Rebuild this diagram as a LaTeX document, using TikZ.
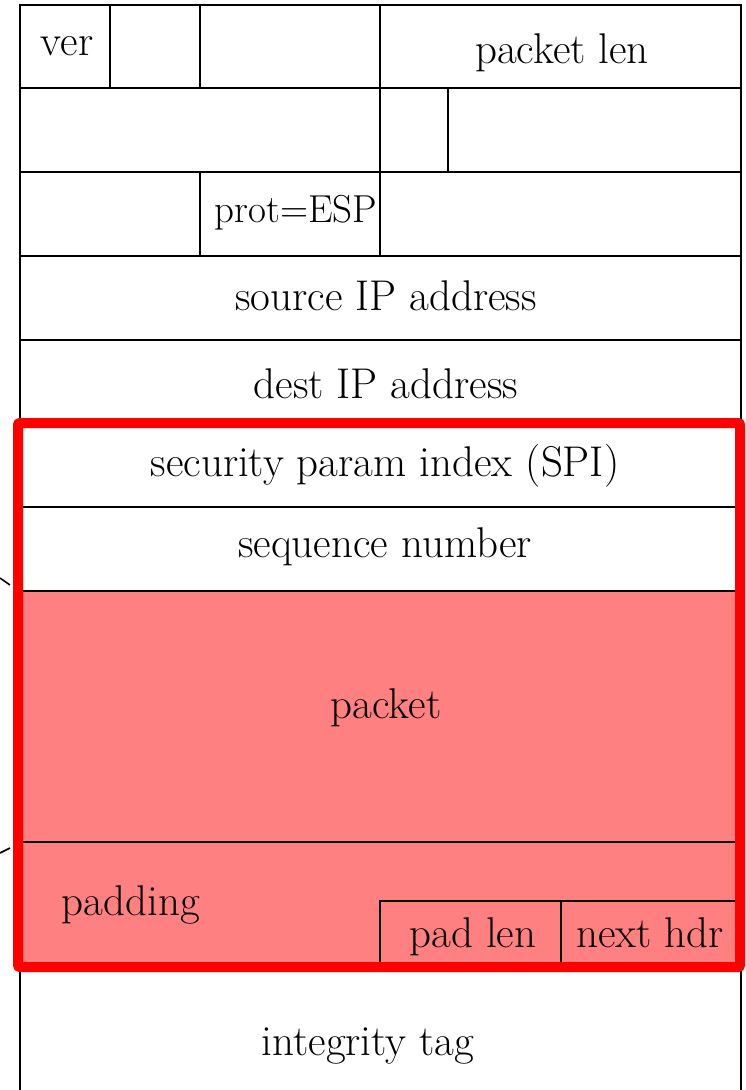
\documentclass[tikz,border=0pt]{standalone}
\usepackage{fontspec}
\begin{document}
\begin{tikzpicture}[x=1pt,y=-1pt,
  grid/.style={line width=1.6pt,black},
  lbl/.style={font=\fontsize{43}{48}\selectfont, inner sep=0pt, text height=0.69em, text depth=0.2em},
  espbox/.style={draw=red,line width=10pt,rounded corners=2pt}]
\useasboundingbox (0,0) rectangle (745,1090);
\definecolor{pktred}{HTML}{FF8080}
% red fill
\fill[pktred] (20,591) rectangle (741,967);
% outer frame
\draw[grid] (20,1090) -- (20,5) -- (741,5) -- (741,1090);
% horizontal lines
\foreach \y in {88,172,256,340,507,591,842} \draw[grid] (20,\y) -- (741,\y);
% vertical lines
\draw[grid] (110,5) -- (110,88);
\draw[grid] (200,5) -- (200,88);
\draw[grid] (380,5) -- (380,256);
\draw[grid] (448,88) -- (448,172);
\draw[grid] (200,172) -- (200,256);
% pad len / next hdr boxes
\draw[grid] (380,967) -- (380,901) -- (735,901);
\draw[grid] (561,901) -- (561,967);
% ESP red box
\draw[espbox] (18,423) rectangle (740,967);
% cut connector fragments
\coordinate (c1a) at (0,578); \coordinate (c1b) at (10,585);
\coordinate (c2a) at (0,853); \coordinate (c2b) at (10,848);
\draw[grid] (c1a) -- (c1b);
\draw[grid] (c2a) -- (c2b);
% labels
\node[lbl] (ver) at (67,53) {ver};
\node[lbl] (plen) at (562,61) {packet len};
\node[lbl,font=\fontsize{39}{44}\selectfont] (prot) at (296,220) {prot=ESP};
\node[lbl] (src) at (386,308) {source IP address};
\node[lbl] (dst) at (386,396) {dest IP address};
\node[lbl] (spi) at (385,474) {security param index (SPI)};
\node[lbl] (seq) at (385,555) {sequence number};
\node[lbl] (pkt) at (386,716) {packet};
\node[lbl] (pad) at (131,913) {padding};
\node[lbl] (padlen) at (473,945) {pad len};
\node[lbl] (nxt) at (650,945) {next hdr};
\node[lbl] (itag) at (368,1053) {integrity tag};
\end{tikzpicture}
\end{document}
